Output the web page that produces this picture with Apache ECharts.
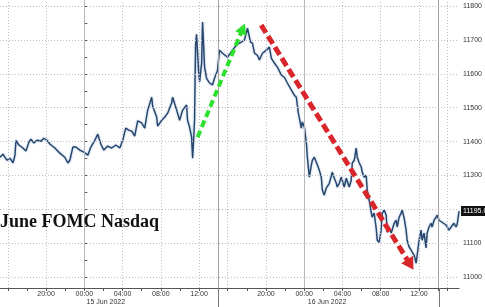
<!DOCTYPE html>
<html><head><meta charset="utf-8">
<script src="https://cdn.jsdelivr.net/npm/echarts@6/dist/echarts.min.js"></script>
<style>html,body{margin:0;padding:0;background:#fff}#c{width:485px;height:307px}</style>
</head><body><div id="c"></div>
<script>
// x = session hours relative to 00:00, 15 Jun 2022 (1h overnight break compressed)
const hours = [
-8.82,-8.51,-8.09,-7.78,-7.46,-7.25,-7.15,-6.84,-6.42,-6.11,
-5.79,-5.58,-5.27,-4.96,-4.54,-4.23,-3.91,-3.60,-3.08,-2.56,
-2.04,-1.72,-1.51,-1.20,-0.89,-0.47,-0.05,0.37,0.68,1.10,
1.41,1.72,2.04,2.45,2.87,3.29,3.71,4.02,4.33,4.64,
4.96,5.27,5.58,6.00,6.32,6.63,7.05,7.15,7.57,7.67,
8.09,8.40,8.72,9.13,9.24,9.66,9.97,10.28,10.70,10.80,
11.01,11.22,11.33,11.43,11.53,11.64,11.74,11.95,12.06,12.27,
12.37,12.58,12.79,13.10,13.41,13.62,13.94,14.14,14.46,14.98,
15.50,16.02,16.44,16.75,17.07,17.38,17.59,17.80,18.11,18.32,
18.63,19.05,19.36,19.57,19.88,20.20,20.62,20.93,21.24,21.66,
21.97,22.18,22.39,22.70,22.81,23.02,23.23,23.33,23.54,23.75,
23.85,24.06,24.27,24.37,24.58,24.79,24.90,25.10,25.31,25.63,
25.94,26.15,26.36,26.46,26.67,26.88,26.98,27.19,27.40,27.51,
27.71,27.92,28.03,28.24,28.44,28.55,28.76,28.97,29.07,29.28,
29.49,29.59,29.80,30.01,30.11,30.32,30.53,30.64,30.85,31.05,
31.16,31.37,31.58,31.68,31.89,32.10,32.20,32.41,32.62,32.73,
32.93,33.14,33.25,33.46,33.66,33.77,33.98,34.19,34.29,34.50,
34.71,35.02,35.23,35.33,35.54,35.75,35.86,36.06,36.27,36.38,
36.59,36.80,36.90,37.11,37.42,37.84,38.15,38.36,38.46,38.67,
38.88,38.99,39.20];
const values = [
11354,11363,11345,11351,11337,11360,11404,11390,11381,11372,
11399,11407,11396,11404,11401,11410,11404,11393,11381,11366,
11354,11337,11345,11384,11384,11375,11369,11360,11384,11404,
11422,11393,11375,11387,11381,11390,11381,11404,11440,11434,
11431,11416,11461,11455,11440,11493,11531,11505,11472,11446,
11463,11472,11484,11514,11531,11493,11463,11493,11508,11463,
11443,11413,11351,11404,11463,11685,11717,11611,11576,11632,
11753,11620,11587,11573,11567,11587,11611,11670,11661,11649,
11670,11688,11694,11700,11735,11694,11691,11661,11655,11641,
11661,11670,11679,11646,11632,11620,11596,11590,11573,11552,
11537,11531,11484,11440,11458,11443,11396,11354,11295,11331,
11345,11354,11339,11337,11316,11295,11257,11242,11263,11277,
11310,11292,11277,11266,11277,11295,11292,11266,11292,11295,
11266,11286,11337,11345,11381,11354,11337,11325,11310,11295,
11301,11257,11227,11192,11177,11189,11145,11109,11103,11139,
11189,11198,11183,11133,11145,11130,11139,11159,11168,11148,
11177,11189,11198,11174,11139,11109,11089,11080,11074,11065,
11041,11109,11139,11109,11130,11086,11130,11148,11159,11148,
11168,11177,11183,11168,11162,11154,11139,11148,11145,11159,
11148,11154,11195];

const timeTickHours = [-4,0,4,8,12,19,23,27,31,35];
const timeTickLabels = ['20:00','00:00','04:00','08:00','12:00','20:00','00:00','04:00','08:00','12:00'];
const dateTickHours = [2.25,25.4];
const dateTickLabels = ['15 Jun 2022','16 Jun 2022'];
const minorTickHours = [-8,-6,-4,-2,0,2,4,6,8,10,12,14,15,17,19,21,23,25,27,29,31,33,35,37,38];
const dottedGridHours = [-8,-4,4,8,12,15,19,27,31,35,38];
const dayLineHours = [0,23];
const sessionLineHours = [14,37];
const priceTicks = [11000,11100,11200,11300,11400,11500,11600,11700,11800];
const priceMinorTicks = [11000,11050,11100,11150,11200,11250,11300,11350,11400,11450,11500,11550,11600,11650,11700,11750,11800];
const greenArrow = [[11.85,11413],[16.58,11734]];
const redArrow = [[18.5,11744],[34.1,11037]];
const titleText = 'June FOMC Nasdaq';

const xMin = -8.82, xMax = 39.2, yMin = 10968, yMax = 11818;
const font = 'Liberation Sans';
const dotted = {color:'#bdbdbd', width:1, type:[1,2]};

const gridLines = []
  .concat(dottedGridHours.map(h => ({xAxis:h, lineStyle:dotted})))
  .concat(priceTicks.map(v => ({yAxis:v, lineStyle:dotted})))
  .concat(dayLineHours.map(h => ({xAxis:h, lineStyle:{color:'#b8b8b8', width:1, type:'solid'}})))
  .concat(sessionLineHours.map(h => ({xAxis:h, lineStyle:{color:'#a0a0a0', width:1, type:'solid'}})));

function arrowLine(pts, color, dash, width, head){
  return [
    {coord:pts[0], symbol:'none', lineStyle:{color:color, width:width, type:dash}},
    {coord:pts[1], symbol:'triangle', symbolSize:head, itemStyle:{color:color}}
  ];
}

const chart = echarts.init(document.getElementById('c'), null, {renderer:'canvas'});
chart.setOption({
  animation:false,
  backgroundColor:'#fff',
  title:{text:titleText, left:0, top:213, padding:0,
    textStyle:{fontFamily:'Liberation Serif', fontWeight:'bold', fontSize:18, color:'#111'}},
  grid:[{left:0,right:25,top:0,bottom:19},{left:0,right:25,top:288,bottom:0}],
  xAxis:[
    {type:'value', gridIndex:0, min:xMin, max:xMax,
      axisLine:{show:true, lineStyle:{color:'#555', width:1}},
      axisTick:{show:true, customValues:minorTickHours, length:3, lineStyle:{color:'#555'}},
      axisLabel:{customValues:timeTickHours, margin:3, fontSize:7, color:'#333', fontFamily:font,
        formatter:v => { const i = timeTickHours.indexOf(v); return i >= 0 ? timeTickLabels[i] : ''; }},
      splitLine:{show:false}},
    {type:'value', gridIndex:0, position:'bottom', min:xMin, max:xMax,
      axisLine:{show:false}, axisTick:{show:false}, splitLine:{show:false},
      axisLabel:{customValues:dateTickHours, margin:11, fontSize:7, color:'#333', fontFamily:font,
        formatter:v => { const i = dateTickHours.indexOf(v); return i >= 0 ? dateTickLabels[i] : ''; }}},
    {type:'value', gridIndex:1, min:xMin, max:xMax, show:false}
  ],
  yAxis:[
    {type:'value', gridIndex:0, position:'right', min:yMin, max:yMax,
      axisLine:{show:true, lineStyle:{color:'#555', width:1}},
      axisTick:{show:true, customValues:priceMinorTicks, length:3, lineStyle:{color:'#555'}},
      axisLabel:{customValues:priceTicks, margin:4, fontSize:7, color:'#333', fontFamily:font,
        formatter:v => String(v)},
      splitLine:{show:false}},
    {type:'value', gridIndex:1, min:0, max:1, show:false}
  ],
  series:[
    {type:'line', xAxisIndex:0, yAxisIndex:0, data:[], z:1, silent:true,
      markLine:{silent:true, symbol:['none','none'], label:{show:false}, animation:false,
        emphasis:{disabled:true}, data:gridLines}},
    {type:'line', xAxisIndex:2, yAxisIndex:1, data:[], z:1, silent:true,
      markLine:{silent:true, symbol:['none','none'], label:{show:false}, animation:false,
        emphasis:{disabled:true},
        data:sessionLineHours.map(h => ({xAxis:h, lineStyle:{color:'#777', width:1, type:'solid'}}))}},
    {type:'line', xAxisIndex:0, yAxisIndex:0, z:3, showSymbol:false, silent:true,
      data:hours.map((h,i) => [h, values[i]]),
      lineStyle:{color:'#27456a', width:1.4, shadowColor:'rgba(110,150,200,0.8)', shadowBlur:2},
      endLabel:{show:true, formatter:p => p.value[1].toFixed(2), color:'#fff', backgroundColor:'#111',
        padding:[2,2,1,2], fontSize:7, fontFamily:font, distance:2}},
    {type:'line', xAxisIndex:0, yAxisIndex:0, data:[], z:5, silent:true,
      markLine:{silent:true, label:{show:false}, animation:false, emphasis:{disabled:true},
        data:[arrowLine(greenArrow,'#2ee02e',[7,4],4,[12,11]), arrowLine(redArrow,'#d9262b',[9,4],5,[14,12])]}}
  ]
});
</script>
</body></html>
